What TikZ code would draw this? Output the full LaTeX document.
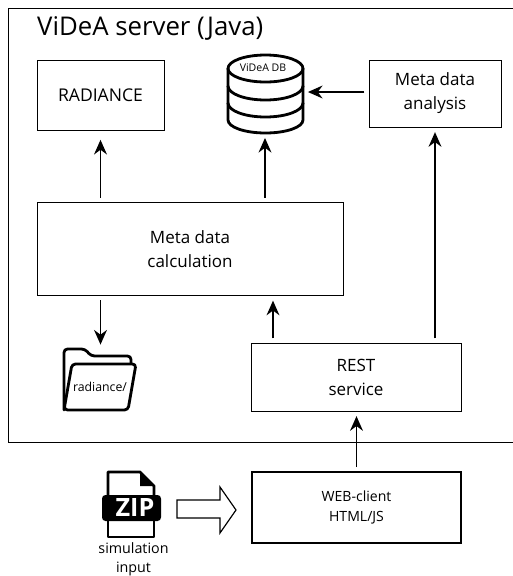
\documentclass[tikz,border=0pt]{standalone}
\usepackage{fontspec}
\setmainfont{Open Sans}
\usetikzlibrary{arrows.meta}
\tikzset{
  box/.style={draw, line width=0.8pt, align=center, inner sep=0pt, font=\fontsize{14.5}{20.5}\selectfont},
  flow/.style={-{Stealth[length=12.5pt,width=11pt]}, line width=1.4pt, shorten >=4pt, shorten <=3.5pt},
  icon/.style={line width=2.4pt, line join=round, line cap=round},
}
\begin{document}
\begin{tikzpicture}[x=0.03cm, y=-0.03cm]
    \useasboundingbox (0,0) rectangle (513,576);

    % Caja del servidor
    \draw[line width=0.8pt] (513,8) -- (8,8) -- (8,442) -- (513,442);
    \node[anchor=west, inner sep=0pt, font=\fontsize{22}{26}\selectfont] (title) at (37,28) {ViDeA server (Java)};

    % Cajas
    \node[box, minimum width=3.81cm, minimum height=2.1cm, font=\fontsize{15}{20}\selectfont] (radiance) at (100.5,95) {RADIANCE};
    \node[box, minimum width=9.18cm, minimum height=2.79cm] (calc) at (190,249) {Meta data\\calculation};
    \node[box, minimum width=3.96cm, minimum height=2.01cm] (analysis) at (435,93.5) {Meta data\\analysis};
    \node[box, minimum width=6.3cm, minimum height=2.04cm] (rest) at (356,377) {REST\\service};
    \node[box, line width=1.3pt, minimum width=6.27cm, minimum height=2.13cm, font=\fontsize{12}{17}\selectfont] (client) at (356.5,507.5) {WEB-client\\HTML/JS};

    % Base de datos
    \node[minimum width=2.28cm, minimum height=2.34cm, inner sep=0pt] (db) at (265,94) {};
    \draw[icon] (228,68.5) arc[start angle=180, end angle=-180, x radius=37.5, y radius=-13.5];
    \draw[icon] (228,68.5) -- (228,120) arc[start angle=180, end angle=360, x radius=37.5, y radius=-13] -- (303,68.5);
    \draw[icon] (228,86) arc[start angle=180, end angle=360, x radius=37.5, y radius=-14];
    \draw[icon] (228,103) arc[start angle=180, end angle=360, x radius=37.5, y radius=-14];
    \node[inner sep=0pt, font=\fontsize{9}{10}\selectfont] (dblabel) at (263,68) {ViDeA DB};

    % Carpeta
    \node[minimum width=2.19cm, minimum height=1.83cm, inner sep=0pt] (folder) at (100,380) {};
    \draw[icon, rounded corners=3pt] (64,410) -- (64,349) -- (85,349) -- (91,356) -- (131,356) -- (131,364);
    \draw[icon, fill=white, rounded corners=3pt] (72,364) -- (136,364) -- (128,410) -- (64,410) -- cycle;
    \node[inner sep=0pt, font=\fontsize{10.5}{12}\selectfont] (folderlabel) at (100,387) {radiance/};

    % Archivo ZIP
    \draw[icon] (108,495) -- (108,472) -- (140,472) -- (154,486) -- (154,495);
    \draw[icon] (108,521) -- (108,537) -- (154,537) -- (154,521);
    \fill (140,472) -- (140,486) -- (154,486) -- cycle;
    \fill[rounded corners=3pt] (102,495) rectangle (161,521);
    \node[white, inner sep=0pt, font=\bfseries\fontsize{21.5}{22}\selectfont] (zip) at (135,508) {ZIP};
    \node[align=center, inner sep=0pt, font=\fontsize{12.2}{16.2}\selectfont] (input) at (133.5,559.5) {simulation\\input};

    % Flecha grande
    \draw[line width=1pt, fill=white] (177,500) -- (220,500) -- (220,487) -- (236,510) -- (220,533) -- (220,518) -- (177,518) -- cycle;

    % Flechas
    \draw[flow, shorten >=8pt] (calc.north -| radiance.south) -- (radiance.south);
    \draw[flow] (calc.north -| db.south) -- (db.south);
    \draw[flow] (calc.south -| radiance.south) -- (folder.north -| radiance.south);
    \draw[flow] (rest.north -| 273,0) -- (calc.south -| 273,0);
    \draw[flow] (rest.north -| analysis.south) -- (analysis.south);
    \draw[flow] (analysis.west |- 0,92) -- (db.east |- 0,92);
    \draw[flow] (client.north) -- (rest.south -| client.north);
\end{tikzpicture}
\end{document}
